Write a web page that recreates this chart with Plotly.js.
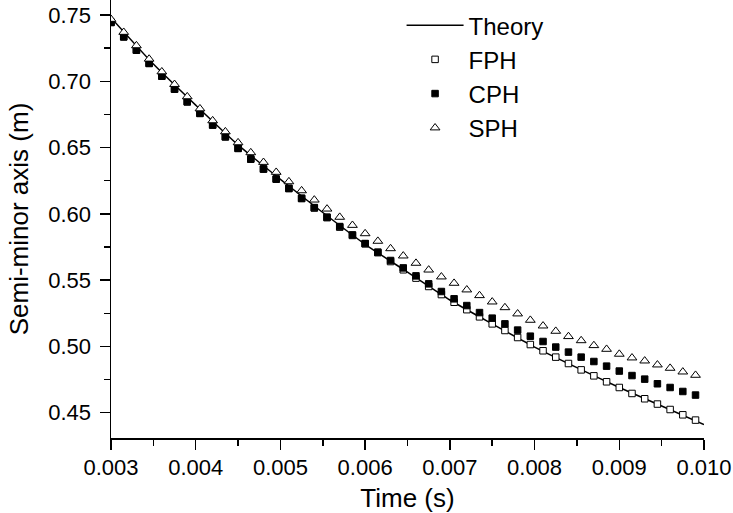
<!DOCTYPE html>
<html>
<head>
<meta charset="utf-8">
<script src="https://cdn.plot.ly/plotly-3.0.1.min.js"></script>
<style>html,body{margin:0;padding:0;background:#fff;}#chart{width:733px;height:513px;}</style>
</head>
<body>
<div id="chart"></div>
<script>
const timeTheory = [0.003, 0.0035, 0.004, 0.0045, 0.005, 0.0055, 0.006, 0.0065, 0.007, 0.0075, 0.008, 0.0085, 0.009, 0.0095, 0.010];
const theory = [0.748, 0.713, 0.682, 0.652, 0.626, 0.601, 0.577, 0.556, 0.535, 0.517, 0.4995, 0.484, 0.469, 0.455, 0.441];

const timePts = [0.003, 0.00315, 0.0033, 0.00345, 0.0036, 0.00375, 0.0039, 0.00405, 0.0042, 0.00435,
  0.0045, 0.00465, 0.0048, 0.00495, 0.0051, 0.00525, 0.0054, 0.00555, 0.0057, 0.00585,
  0.006, 0.00615, 0.0063, 0.00645, 0.0066, 0.00675, 0.0069, 0.00705, 0.0072, 0.00735,
  0.0075, 0.00765, 0.0078, 0.00795, 0.0081, 0.00825, 0.0084, 0.00855, 0.0087, 0.00885,
  0.009, 0.00915, 0.0093, 0.00945, 0.0096, 0.00975, 0.0099];

const fph = [0.7443, 0.7334, 0.7234, 0.7134, 0.7038, 0.6940, 0.6844, 0.6757, 0.6669, 0.6580,
  0.6493, 0.6412, 0.6337, 0.6261, 0.6190, 0.6115, 0.6044, 0.5971, 0.5900, 0.5837,
  0.5774, 0.5707, 0.5640, 0.5578, 0.5515, 0.5452, 0.5391, 0.5333, 0.5277, 0.5223,
  0.5170, 0.5120, 0.5067, 0.5014, 0.4967, 0.4919, 0.4871, 0.4823, 0.4778, 0.4733,
  0.4690, 0.4645, 0.4605, 0.4565, 0.4524, 0.4484, 0.4444];

const cph = [0.7445, 0.7336, 0.7236, 0.7136, 0.7040, 0.6942, 0.6846, 0.6759, 0.6671, 0.6582,
  0.6495, 0.6414, 0.6339, 0.6263, 0.6193, 0.6118, 0.6047, 0.5975, 0.5904, 0.5841,
  0.5776, 0.5711, 0.5648, 0.5592, 0.5532, 0.5472, 0.5414, 0.5359, 0.5308, 0.5255,
  0.5213, 0.5170, 0.5123, 0.5077, 0.5037, 0.4995, 0.4957, 0.4919, 0.4886, 0.4851,
  0.4814, 0.4780, 0.4753, 0.4718, 0.4690, 0.4660, 0.4633];

const sph = [0.7468, 0.7370, 0.7269, 0.7168, 0.7072, 0.6977, 0.6884, 0.6793, 0.6703, 0.6620,
  0.6537, 0.6462, 0.6389, 0.6314, 0.6243, 0.6175, 0.6105, 0.6037, 0.5975, 0.5914,
  0.5851, 0.5794, 0.5738, 0.5683, 0.5628, 0.5577, 0.5525, 0.5477, 0.5427, 0.5384,
  0.5336, 0.5293, 0.5246, 0.5198, 0.5155, 0.5115, 0.5075, 0.5044, 0.5007, 0.4979,
  0.4942, 0.4914, 0.4891, 0.4861, 0.4836, 0.4808, 0.4783];

const xTicks = [0.003, 0.004, 0.005, 0.006, 0.007, 0.008, 0.009, 0.010];
const xTickText = ['0.003', '0.004', '0.005', '0.006', '0.007', '0.008', '0.009', '0.010'];
const yTicks = [0.45, 0.50, 0.55, 0.60, 0.65, 0.70, 0.75];
const yTickText = ['0.45', '0.50', '0.55', '0.60', '0.65', '0.70', '0.75'];

const FONT = 'Liberation Sans, Arial, Helvetica, sans-serif';

const traces = [
  {x: timeTheory, y: theory, name: 'Theory', mode: 'lines', type: 'scatter',
   line: {color: '#000', width: 1.5, shape: 'spline', smoothing: 0.6}},
  {x: timePts, y: fph, name: 'FPH', mode: 'markers', type: 'scatter',
   marker: {symbol: 'square', size: 6.5, color: '#fff', line: {color: '#000', width: 1}}},
  {x: timePts, y: cph, name: 'CPH', mode: 'markers', type: 'scatter',
   marker: {symbol: 'square', size: 6.5, color: '#000', line: {color: '#000', width: 1}}},
  {x: timePts, y: sph, name: 'SPH', mode: 'markers', type: 'scatter',
   marker: {symbol: 'triangle-up', size: 8.5, color: '#fff', line: {color: '#000', width: 1}}}
];

const layout = {
  width: 733, height: 513,
  margin: {l: 111, r: 29, t: 0, b: 75, pad: 0},
  paper_bgcolor: '#fff', plot_bgcolor: '#fff',
  font: {family: FONT, color: '#000', size: 22},
  showlegend: true,
  legend: {x: 0.49, xanchor: 'left', y: 0.993, yanchor: 'top',
    font: {family: FONT, size: 24, color: '#000'}, bgcolor: 'rgba(0,0,0,0)',
    borderwidth: 0, itemwidth: 57, tracegroupgap: 0},
  xaxis: {
    range: [0.003, 0.010], showgrid: false, zeroline: false,
    showline: true, linecolor: '#000', linewidth: 1.5, mirror: false,
    ticks: 'outside', ticklen: 10, tickwidth: 1.5, tickcolor: '#000',
    tickmode: 'array', tickvals: xTicks, ticktext: xTickText,
    tickfont: {family: FONT, size: 22, color: '#000'}, ticklabelstandoff: -1,
    minor: {ticks: 'outside', ticklen: 6, tickwidth: 1.5, tickcolor: '#000', dtick: 0.0005, tick0: 0.003, showgrid: false},
    title: {text: 'Time (s)', font: {family: FONT, size: 26, color: '#000'}, standoff: 12}
  },
  yaxis: {
    range: [0.4309, 0.7613], showgrid: false, zeroline: false,
    showline: true, linecolor: '#000', linewidth: 1.5, mirror: false,
    ticks: 'outside', ticklen: 10, tickwidth: 1.5, tickcolor: '#000',
    tickmode: 'array', tickvals: yTicks, ticktext: yTickText,
    tickfont: {family: FONT, size: 22, color: '#000'}, ticklabelstandoff: 4,
    minor: {ticks: 'outside', ticklen: 6, tickwidth: 1.5, tickcolor: '#000', dtick: 0.025, tick0: 0.45, showgrid: false},
    title: {text: 'Semi-minor axis (m)', font: {family: FONT, size: 26, color: '#000'}, standoff: 12}
  }
};

Plotly.newPlot('chart', traces, layout, {displayModeBar: false, staticPlot: true});
</script>
</body>
</html>
